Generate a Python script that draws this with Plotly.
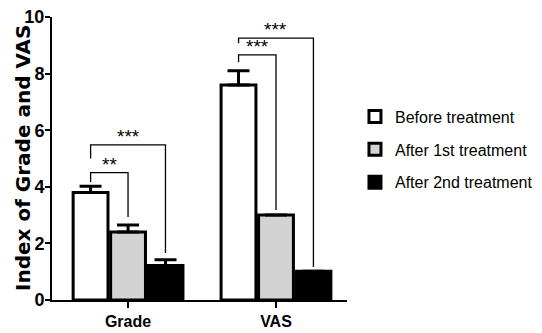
import plotly.graph_objects as go

categories = ["Grade", "VAS"]
series_names = ["Before treatment", "After 1st treatment", "After 2nd treatment"]
before = [3.8, 7.6]
before_err = [0.22, 0.5]
after1 = [2.4, 3.0]
after1_err = [0.25, 0.0]
after2 = [1.22, 1.02]
after2_err = [0.2, 0.0]
fills = ["white", "#d3d3d3", "black"]

# significance brackets: (category index, from series, to series, height, left end, right end, label)
brackets = [
    (0, 0, 1, 4.5, 4.17, 2.93, "**"),
    (0, 0, 2, 5.48, 5.0, 1.66, "***"),
    (1, 0, 1, 8.66, 8.4, 3.18, "***"),
    (1, 0, 2, 9.25, 9.07, 1.17, "***"),
]

x_pos = list(range(len(categories)))
offsets = [-0.253, 0.0, 0.253]

fig = go.Figure()
for name, vals, errs, col in zip(series_names, [before, after1, after2],
                                 [before_err, after1_err, after2_err], fills):
    fig.add_trace(go.Bar(
        x=x_pos, y=vals, name=name, legendgroup=name,
        marker=dict(color=col, line=dict(color="black", width=3)),
        error_y=dict(type="data", array=errs, arrayminus=[0] * len(errs),
                     symmetric=False, color="black", thickness=3, width=11),
    ))

for ci, s0, s1, h, yl, yr, lab in brackets:
    xl = x_pos[ci] + offsets[s0]
    xr = x_pos[ci] + offsets[s1]
    fig.add_shape(type="path",
                  path=f"M {xl} {yl} L {xl} {h} L {xr} {h} L {xr} {yr}",
                  line=dict(color="black", width=1.3), xref="x", yref="y")
    fig.add_annotation(x=(xl + xr) / 2, y=h, text=lab, showarrow=False,
                       yanchor="bottom", yshift=-4,
                       font=dict(family="Liberation Sans, Arial", size=19, color="black"))

fig.add_annotation(text="<b>Index of Grade and VAS</b>", textangle=-90,
                   xref="paper", yref="paper", x=-0.1, y=0.5,
                   xanchor="center", yanchor="middle", showarrow=False,
                   font=dict(family="Verdana, DejaVu Sans", size=20, color="black"))

tick_font = "Liberation Sans Narrow, Arial Narrow, Liberation Sans"

fig.update_layout(
    width=534, height=325,
    margin=dict(l=44, r=195, t=9, b=33, autoexpand=False),
    plot_bgcolor="white", paper_bgcolor="white",
    barmode="group", bargap=0.24, bargroupgap=0.07,
    showlegend=True,
    legend=dict(x=1.027, y=0.708, xanchor="left", yanchor="top",
                traceorder="grouped", tracegroupgap=9,
                font=dict(family="Liberation Sans, Arial", size=16, color="black"),
                bgcolor="rgba(0,0,0,0)"),
    xaxis=dict(range=[-0.514, 1.48], tickvals=x_pos, ticktext=categories,
               automargin=False, ticklabeloverflow="allow",
               showline=True, linecolor="black", linewidth=2,
               ticks="outside", ticklen=6, tickwidth=2, tickcolor="black",
               showgrid=False, zeroline=False,
               tickfont=dict(family=tick_font, size=16, color="black", weight="bold")),
    yaxis=dict(range=[0, 10], tickvals=[0, 2, 4, 6, 8, 10],
               automargin=False, ticklabeloverflow="allow",
               ticklabelstandoff=-3,
               showline=True, linecolor="black", linewidth=2,
               ticks="outside", ticklen=5, tickwidth=2, tickcolor="black",
               showgrid=False, zeroline=False,
               tickfont=dict(family=tick_font, size=18, color="black", weight="bold")),
)

fig.write_html("out.html")
